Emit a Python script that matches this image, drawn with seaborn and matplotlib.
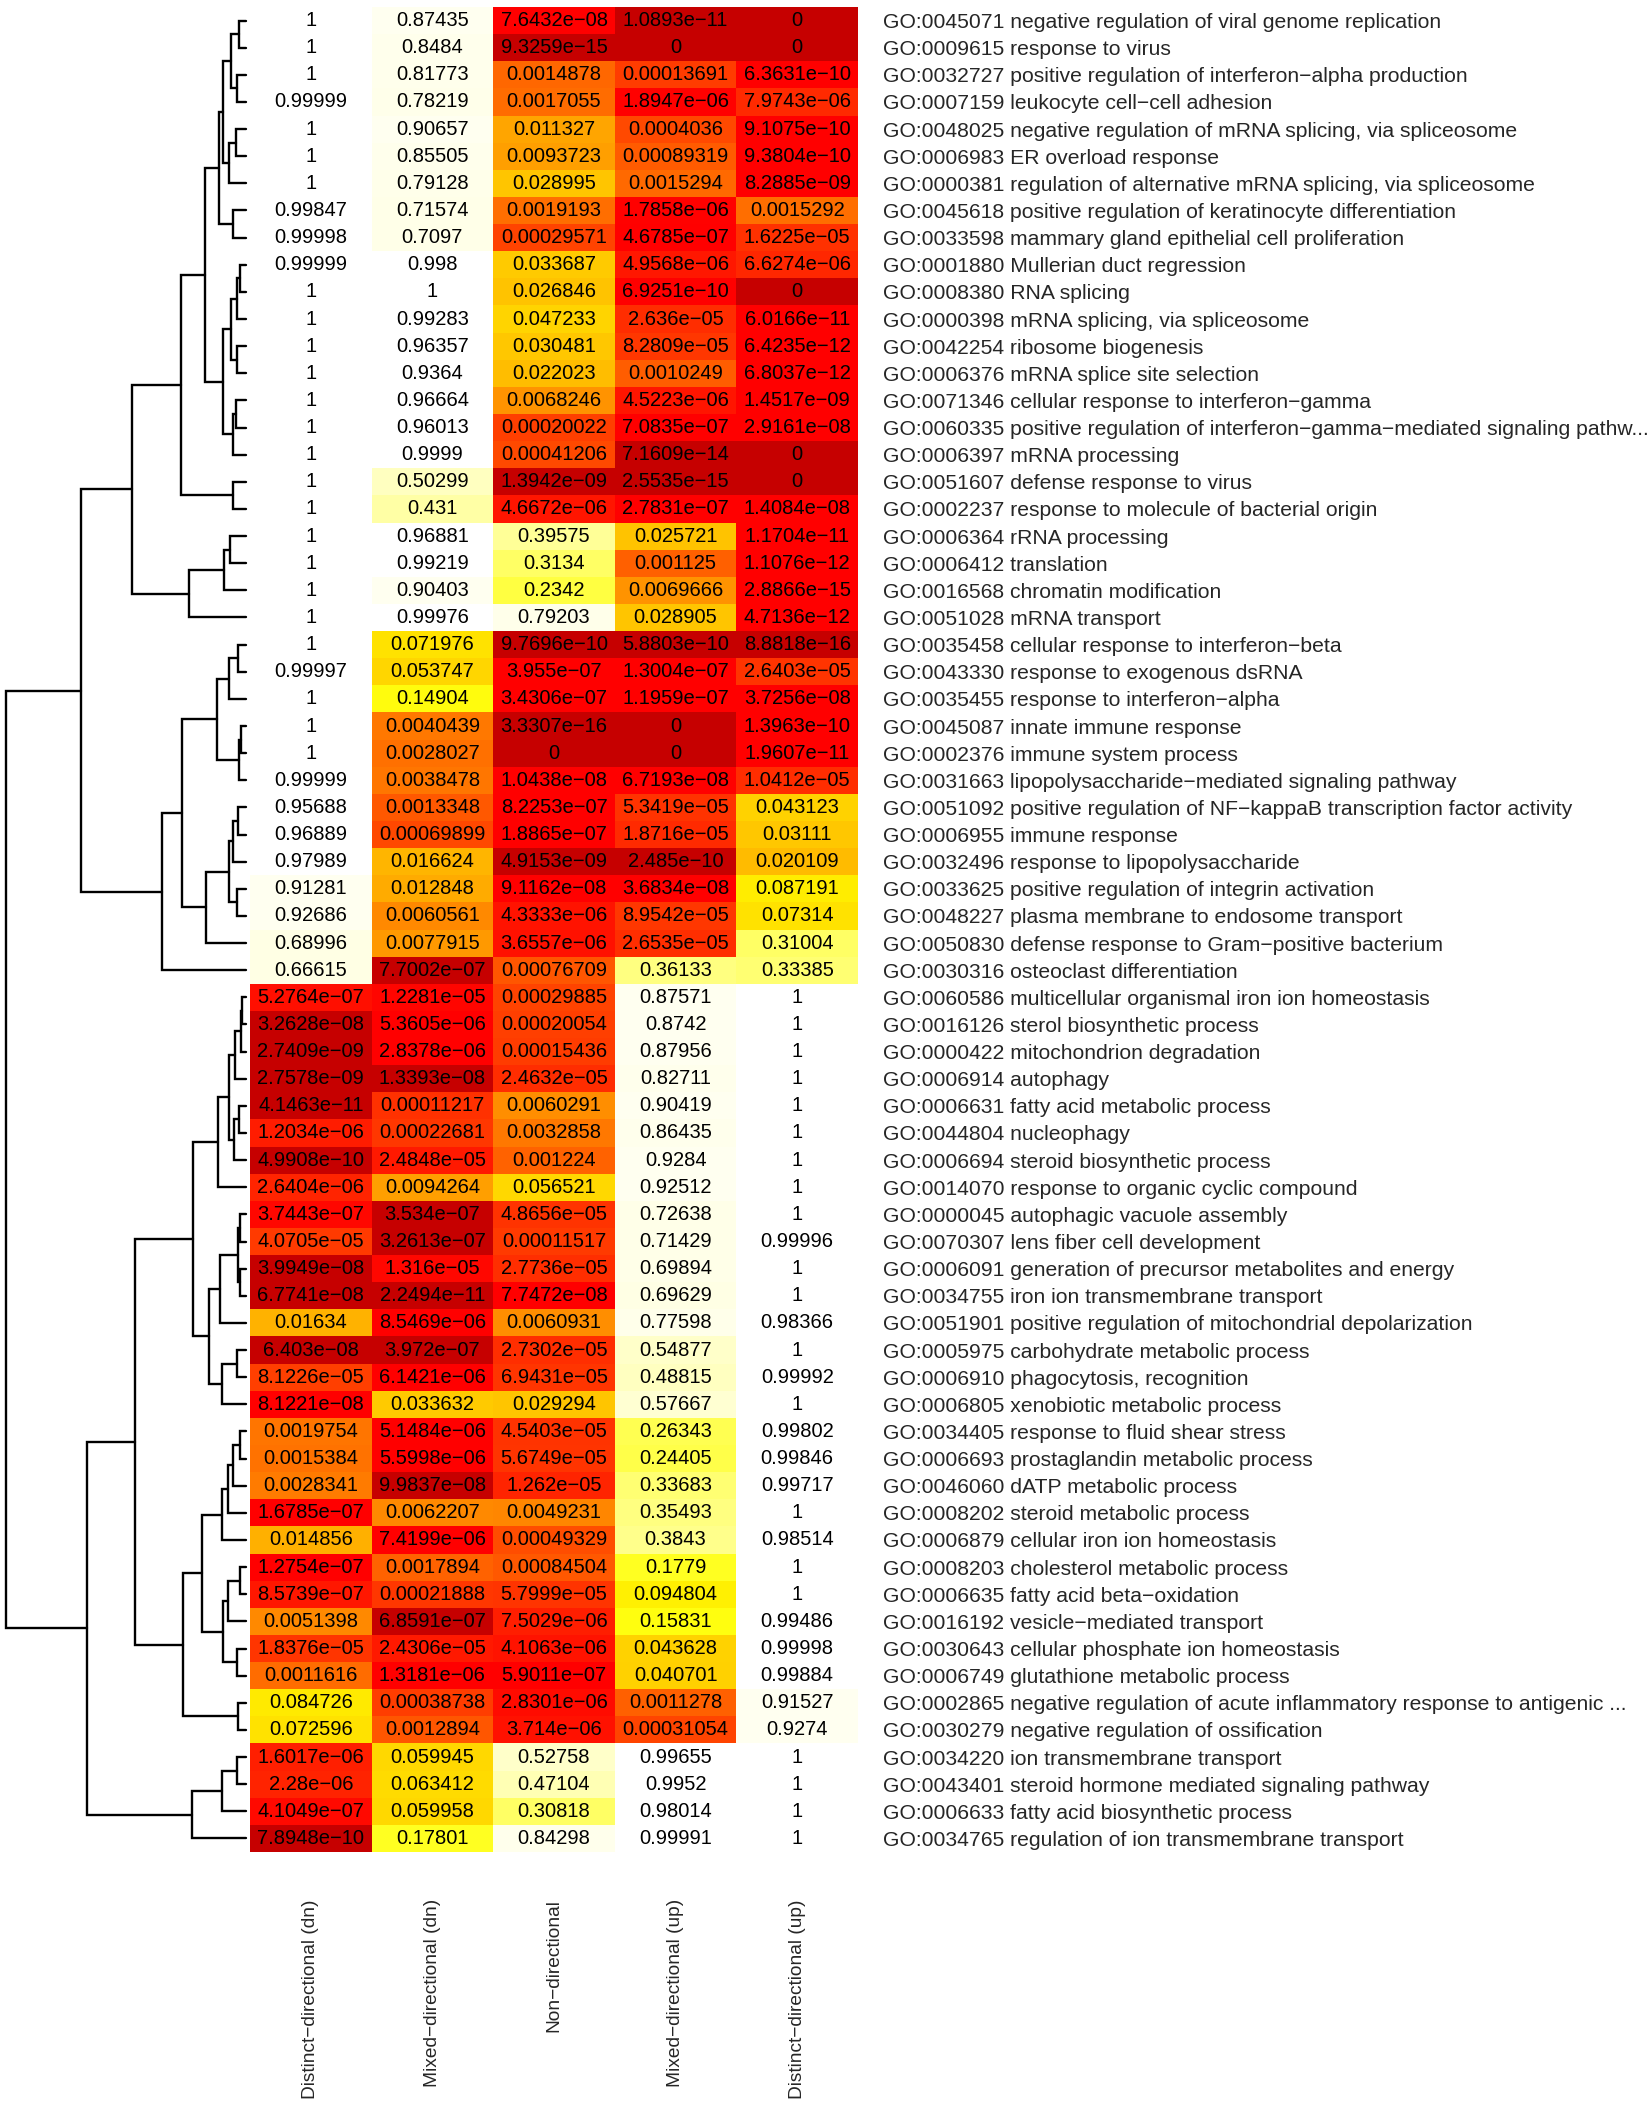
import numpy as np
import pandas as pd
import matplotlib
matplotlib.use("Agg")
import matplotlib.pyplot as plt
import seaborn as sns
from matplotlib.colors import LinearSegmentedColormap

sns.set_style("white")
plt.rcParams['font.family'] = ['Liberation Sans', 'DejaVu Sans']


# Data (p-values per directionality class, rows in dendrogram order)

go_terms = [
    "GO:0045071 negative regulation of viral genome replication",
    "GO:0009615 response to virus",
    "GO:0032727 positive regulation of interferon-alpha production",
    "GO:0007159 leukocyte cell-cell adhesion",
    "GO:0048025 negative regulation of mRNA splicing, via spliceosome",
    "GO:0006983 ER overload response",
    "GO:0000381 regulation of alternative mRNA splicing, via spliceosome",
    "GO:0045618 positive regulation of keratinocyte differentiation",
    "GO:0033598 mammary gland epithelial cell proliferation",
    "GO:0001880 Mullerian duct regression",
    "GO:0008380 RNA splicing",
    "GO:0000398 mRNA splicing, via spliceosome",
    "GO:0042254 ribosome biogenesis",
    "GO:0006376 mRNA splice site selection",
    "GO:0071346 cellular response to interferon-gamma",
    "GO:0060335 positive regulation of interferon-gamma-mediated signaling pathw...",
    "GO:0006397 mRNA processing",
    "GO:0051607 defense response to virus",
    "GO:0002237 response to molecule of bacterial origin",
    "GO:0006364 rRNA processing",
    "GO:0006412 translation",
    "GO:0016568 chromatin modification",
    "GO:0051028 mRNA transport",
    "GO:0035458 cellular response to interferon-beta",
    "GO:0043330 response to exogenous dsRNA",
    "GO:0035455 response to interferon-alpha",
    "GO:0045087 innate immune response",
    "GO:0002376 immune system process",
    "GO:0031663 lipopolysaccharide-mediated signaling pathway",
    "GO:0051092 positive regulation of NF-kappaB transcription factor activity",
    "GO:0006955 immune response",
    "GO:0032496 response to lipopolysaccharide",
    "GO:0033625 positive regulation of integrin activation",
    "GO:0048227 plasma membrane to endosome transport",
    "GO:0050830 defense response to Gram-positive bacterium",
    "GO:0030316 osteoclast differentiation",
    "GO:0060586 multicellular organismal iron ion homeostasis",
    "GO:0016126 sterol biosynthetic process",
    "GO:0000422 mitochondrion degradation",
    "GO:0006914 autophagy",
    "GO:0006631 fatty acid metabolic process",
    "GO:0044804 nucleophagy",
    "GO:0006694 steroid biosynthetic process",
    "GO:0014070 response to organic cyclic compound",
    "GO:0000045 autophagic vacuole assembly",
    "GO:0070307 lens fiber cell development",
    "GO:0006091 generation of precursor metabolites and energy",
    "GO:0034755 iron ion transmembrane transport",
    "GO:0051901 positive regulation of mitochondrial depolarization",
    "GO:0005975 carbohydrate metabolic process",
    "GO:0006910 phagocytosis, recognition",
    "GO:0006805 xenobiotic metabolic process",
    "GO:0034405 response to fluid shear stress",
    "GO:0006693 prostaglandin metabolic process",
    "GO:0046060 dATP metabolic process",
    "GO:0008202 steroid metabolic process",
    "GO:0006879 cellular iron ion homeostasis",
    "GO:0008203 cholesterol metabolic process",
    "GO:0006635 fatty acid beta-oxidation",
    "GO:0016192 vesicle-mediated transport",
    "GO:0030643 cellular phosphate ion homeostasis",
    "GO:0006749 glutathione metabolic process",
    "GO:0002865 negative regulation of acute inflammatory response to antigenic ...",
    "GO:0030279 negative regulation of ossification",
    "GO:0034220 ion transmembrane transport",
    "GO:0043401 steroid hormone mediated signaling pathway",
    "GO:0006633 fatty acid biosynthetic process",
    "GO:0034765 regulation of ion transmembrane transport",
]

classes = ["Distinct-directional (dn)", "Mixed-directional (dn)", "Non-directional",
           "Mixed-directional (up)", "Distinct-directional (up)"]

distinct_dn = [
    1, 1, 1, 0.99999, 1, 1, 1, 0.99847, 0.99998, 0.99999,
    1, 1, 1, 1, 1, 1, 1, 1, 1, 1,
    1, 1, 1, 1, 0.99997, 1, 1, 1, 0.99999, 0.95688,
    0.96889, 0.97989, 0.91281, 0.92686, 0.68996, 0.66615, 5.2764e-07, 3.2628e-08, 2.7409e-09, 2.7578e-09,
    4.1463e-11, 1.2034e-06, 4.9908e-10, 2.6404e-06, 3.7443e-07, 4.0705e-05, 3.9949e-08, 6.7741e-08, 0.01634, 6.403e-08,
    8.1226e-05, 8.1221e-08, 0.0019754, 0.0015384, 0.0028341, 1.6785e-07, 0.014856, 1.2754e-07, 8.5739e-07, 0.0051398,
    1.8376e-05, 0.0011616, 0.084726, 0.072596, 1.6017e-06, 2.28e-06, 4.1049e-07, 7.8948e-10,
]

mixed_dn = [
    0.87435, 0.8484, 0.81773, 0.78219, 0.90657, 0.85505, 0.79128, 0.71574, 0.7097, 0.998,
    1, 0.99283, 0.96357, 0.9364, 0.96664, 0.96013, 0.9999, 0.50299, 0.431, 0.96881,
    0.99219, 0.90403, 0.99976, 0.071976, 0.053747, 0.14904, 0.0040439, 0.0028027, 0.0038478, 0.0013348,
    0.00069899, 0.016624, 0.012848, 0.0060561, 0.0077915, 7.7002e-07, 1.2281e-05, 5.3605e-06, 2.8378e-06, 1.3393e-08,
    0.00011217, 0.00022681, 2.4848e-05, 0.0094264, 3.534e-07, 3.2613e-07, 1.316e-05, 2.2494e-11, 8.5469e-06, 3.972e-07,
    6.1421e-06, 0.033632, 5.1484e-06, 5.5998e-06, 9.9837e-08, 0.0062207, 7.4199e-06, 0.0017894, 0.00021888, 6.8591e-07,
    2.4306e-05, 1.3181e-06, 0.00038738, 0.0012894, 0.059945, 0.063412, 0.059958, 0.17801,
]

non_dir = [
    7.6432e-08, 9.3259e-15, 0.0014878, 0.0017055, 0.011327, 0.0093723, 0.028995, 0.0019193, 0.00029571, 0.033687,
    0.026846, 0.047233, 0.030481, 0.022023, 0.0068246, 0.00020022, 0.00041206, 1.3942e-09, 4.6672e-06, 0.39575,
    0.3134, 0.2342, 0.79203, 9.7696e-10, 3.955e-07, 3.4306e-07, 3.3307e-16, 0, 1.0438e-08, 8.2253e-07,
    1.8865e-07, 4.9153e-09, 9.1162e-08, 4.3333e-06, 3.6557e-06, 0.00076709, 0.00029885, 0.00020054, 0.00015436, 2.4632e-05,
    0.0060291, 0.0032858, 0.001224, 0.056521, 4.8656e-05, 0.00011517, 2.7736e-05, 7.7472e-08, 0.0060931, 2.7302e-05,
    6.9431e-05, 0.029294, 4.5403e-05, 5.6749e-05, 1.262e-05, 0.0049231, 0.00049329, 0.00084504, 5.7999e-05, 7.5029e-06,
    4.1063e-06, 5.9011e-07, 2.8301e-06, 3.714e-06, 0.52758, 0.47104, 0.30818, 0.84298,
]

mixed_up = [
    1.0893e-11, 0, 0.00013691, 1.8947e-06, 0.0004036, 0.00089319, 0.0015294, 1.7858e-06, 4.6785e-07, 4.9568e-06,
    6.9251e-10, 2.636e-05, 8.2809e-05, 0.0010249, 4.5223e-06, 7.0835e-07, 7.1609e-14, 2.5535e-15, 2.7831e-07, 0.025721,
    0.001125, 0.0069666, 0.028905, 5.8803e-10, 1.3004e-07, 1.1959e-07, 0, 0, 6.7193e-08, 5.3419e-05,
    1.8716e-05, 2.485e-10, 3.6834e-08, 8.9542e-05, 2.6535e-05, 0.36133, 0.87571, 0.8742, 0.87956, 0.82711,
    0.90419, 0.86435, 0.9284, 0.92512, 0.72638, 0.71429, 0.69894, 0.69629, 0.77598, 0.54877,
    0.48815, 0.57667, 0.26343, 0.24405, 0.33683, 0.35493, 0.3843, 0.1779, 0.094804, 0.15831,
    0.043628, 0.040701, 0.0011278, 0.00031054, 0.99655, 0.9952, 0.98014, 0.99991,
]

distinct_up = [
    0, 0, 6.3631e-10, 7.9743e-06, 9.1075e-10, 9.3804e-10, 8.2885e-09, 0.0015292, 1.6225e-05, 6.6274e-06,
    0, 6.0166e-11, 6.4235e-12, 6.8037e-12, 1.4517e-09, 2.9161e-08, 0, 0, 1.4084e-08, 1.1704e-11,
    1.1076e-12, 2.8866e-15, 4.7136e-12, 8.8818e-16, 2.6403e-05, 3.7256e-08, 1.3963e-10, 1.9607e-11, 1.0412e-05, 0.043123,
    0.03111, 0.020109, 0.087191, 0.07314, 0.31004, 0.33385, 1, 1, 1, 1,
    1, 1, 1, 1, 1, 0.99996, 1, 1, 0.98366, 1,
    0.99992, 1, 0.99802, 0.99846, 0.99717, 1, 0.98514, 1, 1, 0.99486,
    0.99998, 0.99884, 0.91527, 0.9274, 1, 1, 1, 1,
]

# consensus-score shaping per class: slope below p=0.01 and cut for the darkest level
score_slope = [0.65, 1.0, 0.8, 0.8, 0.7]
dark_cut = [-7.15, -6.0, -8.1, -9.2, -14.8]

# row dendrogram: (left, right, height), leaves are row indices
a1 = ((0, 1, 0.029), (2, 3, 0.0375), 0.0625)
a2 = ((4, 5, 0.042), 6, 0.071)
a3 = ((a1, a2, 0.096), (7, 8, 0.054), 0.1125)
b1 = (((9, 10, 0.025), 11, 0.0375), (12, 13, 0.0375), 0.0625)
b2 = ((14, 15, 0.042), 16, 0.054)
clA = (a3, (b1, b2, 0.096), 0.171)
clA = (clA, (17, 18, 0.054), 0.271)
clC = (((19, 20, 0.067), 21, 0.092), 22, 0.2375)
clAC = (clA, clC, 0.475)
d1 = (((23, 24, 0.033), 25, 0.071), ((26, 27, 0.021), 28, 0.029), 0.121)
d2 = ((((29, 30, 0.033), 31, 0.054), (32, 33, 0.0375), 0.071), 34, 0.167)
clD = ((d1, d2, 0.267), 35, 0.35)
top = (clAC, clD, 0.6875)
e1 = ((((36, 37, 0.017), 38, 0.021), 39, 0.046), ((40, 41, 0.029), 42, 0.05), 0.071)
e2 = ((((44, 45, 0.025), (46, 47, 0.025), 0.033), 48, 0.108), ((49, 50, 0.0375), 51, 0.1), 0.154)
e12 = ((e1, 43, 0.117), e2, 0.221)
f = ((((52, 53, 0.025), 54, 0.054), 55, 0.075), 56, 0.1)
g = (((57, 58, 0.025), 59, 0.075), (60, 61, 0.0375), 0.096)
fgh = ((f, g, 0.183), (62, 63, 0.033), 0.2625)
k = (((64, 65, 0.0375), 66, 0.1), 67, 0.225)
bottom = ((e12, fgh, 0.4625), k, 0.6625)
tree = (top, bottom, 1.0)


# Scores for colouring

pvals = pd.DataFrame({c: v for c, v in zip(classes, [distinct_dn, mixed_dn, non_dir, mixed_up, distinct_up])},
                     index=go_terms)
logp = np.log10(pvals.clip(lower=1e-17))
score = logp.copy()
for j, c in enumerate(classes):
    v = logp[c]
    s = np.where(v >= -2, v, -2 + (v + 2) * score_slope[j])
    s = np.maximum(s, -7.99)
    s = np.where(v < dark_cut[j], -9, s)
    score[c] = s

annot = pvals.map(lambda x: f"{x:.5g}".replace("-", "\u2212")).values

anchors = [(-8.0, "#FF0000"), (-5.0, "#FF0000"), (-4.6, "#FF1A00"), (-4.0, "#FF3000"),
           (-3.6, "#FF3800"), (-3.2, "#FF4400"), (-2.9, "#FF5500"), (-2.55, "#FF7000"),
           (-2.4, "#FF7700"), (-2.2, "#FF8800"), (-2.1, "#FF9900"), (-2.0, "#FFA000"),
           (-1.9, "#FFAA00"), (-1.78, "#FFB300"), (-1.7, "#FFBB00"), (-1.52, "#FFC600"),
           (-1.4, "#FFD000"), (-1.22, "#FFD800"), (-1.03, "#FFEE00"), (-0.77, "#FFFF10"),
           (-0.63, "#FFFF40"), (-0.51, "#FFFF60"), (-0.44, "#FFFF80"), (-0.37, "#FFFF99"),
           (-0.3, "#FFFFBB"), (-0.15, "#FFFFE6"), (-0.06, "#FFFFEC"), (-0.005, "#FFFFF3"),
           (0.0, "#FFFFFF")]
cmap = LinearSegmentedColormap.from_list(
    "consensus", [((s + 8) / 8, col) for s, col in anchors])
cmap.set_under("#C60000")


# Plot

W, H = 1650, 2108
fig = plt.figure(figsize=(W / 100, H / 100), dpi=100)
ax_h = fig.add_axes([250 / W, 1 - 1852 / H, 608 / W, 1845 / H])
ax_d = fig.add_axes([6 / W, 1 - 1852 / H, 240 / W, 1845 / H])

row_labels = [t.replace("-", "\u2212") for t in go_terms]
col_labels = [c.replace("-", "\u2212") for c in classes]

sns.heatmap(score, ax=ax_h, cmap=cmap, vmin=-8, vmax=0, cbar=False,
            annot=annot, fmt="", annot_kws={"fontsize": 14.5, "color": "black"},
            xticklabels=col_labels, yticklabels=row_labels)
ax_h.yaxis.tick_right()
ax_h.set_yticklabels(row_labels, rotation=0, fontsize=15.2, ha="left")
ax_h.set_xticklabels(col_labels, rotation=90, fontsize=13.8, va="top")
ax_h.tick_params(axis="y", length=0, pad=18)
ax_h.tick_params(axis="x", length=0, pad=34)
ax_h.set_xlabel("")
ax_h.set_ylabel("")


def draw(node):
    if isinstance(node, int):
        return node + 0.5, 0.0
    left, right, h = node
    y1, h1 = draw(left)
    y2, h2 = draw(right)
    ax_d.plot([h1, h, h, h2], [y1, y1, y2, y2], color="black", lw=1.7,
              solid_joinstyle="miter", clip_on=False)
    return (y1 + y2) / 2, h


draw(tree)
ax_d.set_xlim(1.0, 0.0)
ax_d.set_ylim(len(go_terms), 0)
ax_d.axis("off")

fig.savefig("out.png", dpi=100)
